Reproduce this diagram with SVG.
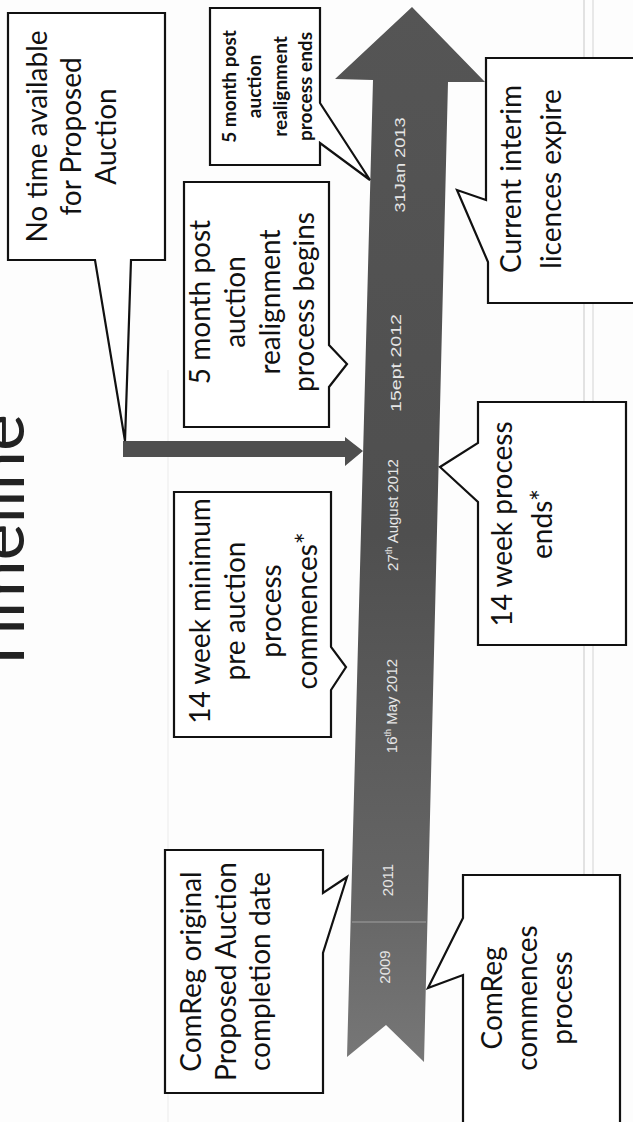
<svg xmlns="http://www.w3.org/2000/svg" width="633" height="1122" viewBox="0 0 633 1122">
<defs>
<linearGradient id="shaft" x1="0" y1="0" x2="0" y2="1">
<stop offset="0" stop-color="#555"/>
<stop offset="0.5" stop-color="#4f4f4f"/>
<stop offset="0.85" stop-color="#666"/>
<stop offset="1" stop-color="#777"/>
</linearGradient>
<style>
.box{fill:#fff;stroke:#111;stroke-width:2.2;stroke-linejoin:miter}
.t{font-family:Lato,"Liberation Sans",sans-serif;font-size:28px;fill:#111;text-anchor:middle}
.ts{font-family:Lato,"Liberation Sans",sans-serif;font-size:19px;font-weight:bold;fill:#111;text-anchor:middle}
.d{font-family:"Liberation Sans",sans-serif;font-size:15px;fill:#e6e6e6;text-anchor:middle}
.sup{font-size:9px}
</style>
</defs>
<rect width="633" height="1122" fill="#fdfdfd"/>
<line x1="584" y1="0" x2="584" y2="1122" stroke="#e2e2e2" stroke-width="2"/>
<line x1="593" y1="0" x2="593" y2="1122" stroke="#e8e8e8" stroke-width="2"/>
<line x1="168" y1="370" x2="168" y2="1122" stroke="#f0f0f0" stroke-width="1.5"/>

<g id="title">
<text transform="rotate(-90)" x="-545" y="24" style="font-family:Lato,'Liberation Sans',sans-serif;font-size:70px;fill:#222;text-anchor:middle">Timeline</text>
</g>

<g id="timeline-arrow">
<polygon points="373,80 335,79 412,7 485,82 448,82 424,1062 386,1025 347,1057" fill="url(#shaft)"/>
<line x1="352" y1="922" x2="426" y2="922" stroke="#8e8e8e" stroke-width="1.5"/>
<g class="d">
<text transform="rotate(-90)" x="-165" y="405" textLength="95" lengthAdjust="spacingAndGlyphs">31Jan 2013</text>
<text transform="rotate(-90)" x="-363" y="401" textLength="98" lengthAdjust="spacingAndGlyphs">15ept 2012</text>
<text transform="rotate(-90)" x="-515" y="398">27<tspan class="sup" dy="-6">th</tspan><tspan dy="6"> August 2012</tspan></text>
<text transform="rotate(-90)" x="-706" y="397">16<tspan class="sup" dy="-6">th</tspan><tspan dy="6"> May 2012</tspan></text>
<text transform="rotate(-90)" x="-880" y="393">2011</text>
<text transform="rotate(-90)" x="-967" y="390">2009</text>
</g>
</g>

<g id="connectors">
<polygon points="123,441 345,441 345,437 363,451 345,466 345,457 123,457" fill="#4f4f4f"/>
</g>

<g id="node-no-time">
<path class="box" d="M8,13 H165 V260 H131 L125,441 L95,260 H8 Z"/>
<text class="t" transform="rotate(-90)"><tspan x="-136.5" y="46.5">No time available</tspan><tspan x="-136.5" y="81">for Proposed</tspan><tspan x="-136.5" y="115.5">Auction</tspan></text>
</g>

<g id="node-realign-ends">
<path class="box" d="M210,8 H320 V103 L370,180 L320,143 V165 H210 Z"/>
<text class="ts" transform="rotate(-90)"><tspan x="-86.5" y="235.5">5 month post</tspan><tspan x="-86.5" y="261">auction</tspan><tspan x="-86.5" y="286.5">realignment</tspan><tspan x="-86.5" y="312">process ends</tspan></text>
</g>

<g id="node-realign-begins">
<path class="box" d="M184,182 H329 V345 L347,364 L329,387 V427 H184 Z"/>
<text class="t" transform="rotate(-90)"><tspan x="-302" y="210">5 month post</tspan><tspan x="-302" y="245">auction</tspan><tspan x="-302" y="280">realignment</tspan><tspan x="-302" y="314">process begins</tspan></text>
</g>

<g id="node-licences-expire">
<path class="box" d="M486,58 H640 V303 H488 V262 L457,190 L486,200 Z"/>
<text class="t" transform="rotate(-90)"><tspan x="-179" y="521">Current interim</tspan><tspan x="-179" y="561">licences expire</tspan></text>
</g>

<g id="node-14wk-commences">
<path class="box" d="M174,492 H331 V647 L346,667 L331,690 V737 H174 Z"/>
<text class="t" transform="rotate(-90)"><tspan x="-611" y="210">14 week minimum</tspan><tspan x="-611" y="245">pre auction</tspan><tspan x="-611" y="281">process</tspan><tspan x="-611" y="317">commences*</tspan></text>
</g>

<g id="node-14wk-ends">
<path class="box" d="M478,402 H626 V645 H478 V502 L440,467 L478,443 Z"/>
<text class="t" transform="rotate(-90)"><tspan x="-524" y="512">14 week process</tspan><tspan x="-524" y="552">ends*</tspan></text>
</g>

<g id="node-original-date">
<path class="box" d="M165,850 H323 V893 L347,877 L323,953 V1093 H165 Z"/>
<text class="t" transform="rotate(-90)"><tspan x="-971.5" y="201">ComReg original</tspan><tspan x="-971.5" y="235.5">Proposed Auction</tspan><tspan x="-971.5" y="270">completion date</tspan></text>
</g>

<g id="node-comreg-commences">
<path class="box" d="M463,875 H620 V1125 H463 V975 L428,988 L463,918 Z"/>
<text class="t" transform="rotate(-90)"><tspan x="-998" y="502">ComReg</tspan><tspan x="-998" y="537">commences</tspan><tspan x="-998" y="572">process</tspan></text>
</g>
</svg>
